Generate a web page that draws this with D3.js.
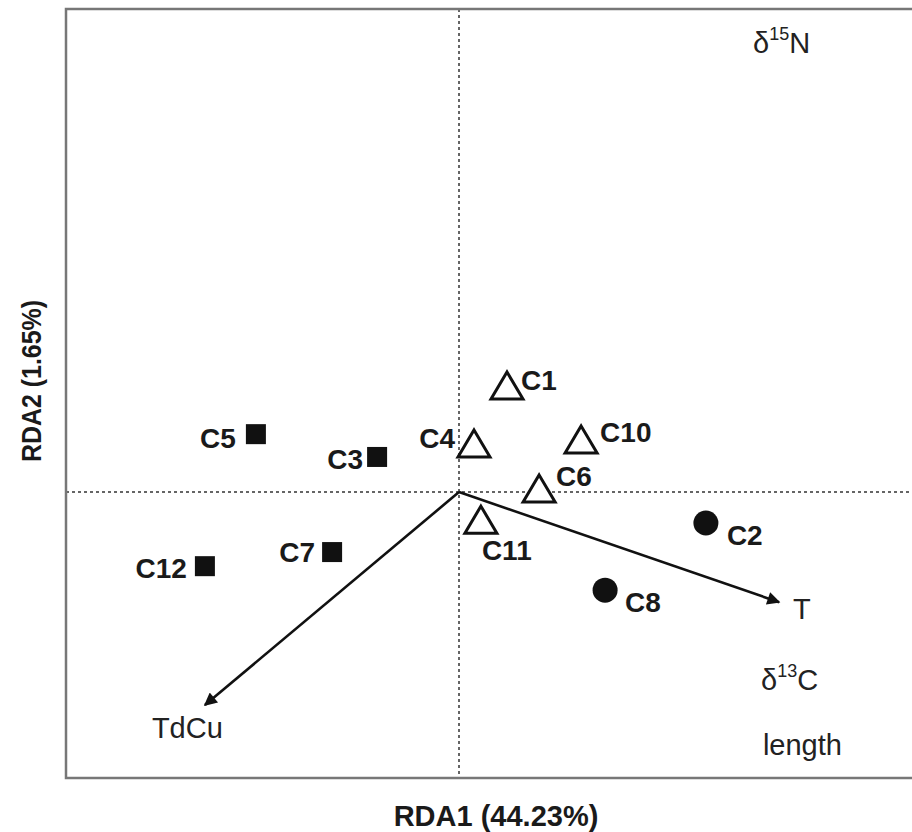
<!DOCTYPE html>
<html>
<head>
<meta charset="utf-8">
<script src="https://cdn.jsdelivr.net/npm/d3@7"></script>
<style>
  body { margin: 0; background: #fff; }
  svg { display: block; }
</style>
</head>
<body>
<svg id="chart"></svg>
<script>
const width = 912;
const height = 832;
const frame = { left: 66, right: 912, top: 9, bottom: 778 };

// site scores (RDA1, RDA2)
const sites = ["C1", "C4", "C10", "C6", "C11", "C5", "C3", "C7", "C12", "C2", "C8"];
const rda1 = [0.16, 0.05, 0.407, 0.267, 0.073, -0.677, -0.273, -0.423, -0.847, 0.823, 0.487];
const rda2 = [0.35, 0.157, 0.17, 0.007, -0.097, 0.193, 0.117, -0.2, -0.247, -0.103, -0.327];
const groups = ["tri", "tri", "tri", "tri", "tri", "sq", "sq", "sq", "sq", "dot", "dot"];

// environmental vectors
const envNames = ["T", "TdCu"];
const envX = [1.067, -0.847];
const envY = [-0.367, -0.71];

// variables plotted as labels only
const varNames = ["δ15N", "δ13C", "length"];
const varX = [0.98, 1.007, 1.013];
const varY = [1.463, -0.66, -0.877];

const xLabel = "RDA1 (44.23%)";
const yLabel = "RDA2 (1.65%)";

const xScale = d3.scaleLinear().domain([-1.31, 1.51]).range([frame.left, frame.right]);
const yScale = d3.scaleLinear().domain([-0.953, 1.61]).range([frame.bottom, frame.top]);

const svg = d3.select("#chart")
    .attr("width", width)
    .attr("height", height);

const sans = "'Liberation Sans', Arial, sans-serif";

// label offsets for site names
const labelPos = {
    C1: [14, -4, "start"], C4: [-19, -4, "end"], C10: [19, -6, "start"],
    C6: [17, -11, "start"], C11: [1, 31, "start"], C5: [-20, 6, "end"],
    C3: [-14, 5, "end"], C7: [-17, 3, "end"], C12: [-18, 4, "end"],
    C2: [21, 15, "start"], C8: [20, 14, "start"]
};
// label offsets for vector names
const envLabelPos = { T: [14, 17], TdCu: [-53, 33] };

svg.append("defs").append("marker")
    .attr("id", "arrow")
    .attr("viewBox", "0 0 10 10")
    .attr("refX", 9).attr("refY", 5)
    .attr("markerWidth", 7).attr("markerHeight", 5)
    .attr("markerUnits", "strokeWidth")
    .attr("orient", "auto")
    .append("path")
    .attr("d", "M0,0 L10,5 L0,10 Z")
    .attr("fill", "#111");

// zero lines
svg.append("line")
    .attr("x1", xScale(0)).attr("x2", xScale(0))
    .attr("y1", frame.top).attr("y2", frame.bottom)
    .attr("stroke", "#333").attr("stroke-width", 1.5).attr("stroke-dasharray", "3,3");
svg.append("line")
    .attr("x1", frame.left).attr("x2", frame.right)
    .attr("y1", yScale(0)).attr("y2", yScale(0))
    .attr("stroke", "#333").attr("stroke-width", 1.5).attr("stroke-dasharray", "3,3");

// frame
svg.append("path")
    .attr("d", `M${frame.right},${frame.top} H${frame.left} V${frame.bottom} H${frame.right}`)
    .attr("fill", "none")
    .attr("stroke", "#777")
    .attr("stroke-width", 2.5);

// arrows
svg.selectAll(".env")
    .data(envNames)
    .enter()
    .append("line")
    .attr("class", "env")
    .attr("x1", xScale(0)).attr("y1", yScale(0))
    .attr("x2", (d, i) => xScale(envX[i]))
    .attr("y2", (d, i) => yScale(envY[i]))
    .attr("stroke", "#111")
    .attr("stroke-width", 2.6)
    .attr("marker-end", "url(#arrow)");

svg.selectAll(".envlab")
    .data(envNames)
    .enter()
    .append("text")
    .attr("class", "envlab")
    .attr("x", (d, i) => xScale(envX[i]) + envLabelPos[d][0])
    .attr("y", (d, i) => yScale(envY[i]) + envLabelPos[d][1])
    .attr("font-family", sans).attr("font-size", 29).attr("fill", "#222")
    .text(d => d);

// variable labels with superscripts
varNames.forEach((name, i) => {
    const t = svg.append("text")
        .attr("x", xScale(varX[i])).attr("y", yScale(varY[i]))
        .attr("font-family", sans).attr("font-size", 29).attr("fill", "#222");
    const m = name.match(/^δ(\d+)(\w)$/);
    if (m) {
        t.append("tspan").text("δ");
        t.append("tspan").attr("font-size", 18).attr("dy", -13).text(m[1]);
        t.append("tspan").attr("dy", 13).text(m[2]);
    } else {
        t.text(name);
    }
});

// site markers
const sym = svg.selectAll(".site")
    .data(sites)
    .enter()
    .append("g")
    .attr("class", "site")
    .attr("transform", (d, i) => `translate(${xScale(rda1[i])},${yScale(rda2[i])})`);

sym.filter(d => groups[sites.indexOf(d)] === "tri")
    .append("path")
    .attr("d", "M0,-15 L16,12 L-16,12 Z")
    .attr("fill", "#fff")
    .attr("stroke", "#111")
    .attr("stroke-width", 3);

sym.filter(d => groups[sites.indexOf(d)] === "sq")
    .append("rect")
    .attr("x", -10).attr("y", -10)
    .attr("width", 20).attr("height", 20)
    .attr("fill", "#111");

sym.filter(d => groups[sites.indexOf(d)] === "dot")
    .append("circle")
    .attr("r", 12.5)
    .attr("fill", "#111");

sym.append("text")
    .attr("x", d => labelPos[d][0])
    .attr("y", d => labelPos[d][1])
    .attr("text-anchor", d => labelPos[d][2])
    .attr("dominant-baseline", "middle")
    .attr("font-family", sans)
    .attr("font-weight", "bold")
    .attr("font-size", 28)
    .attr("fill", "#1a1a1a")
    .text(d => d);

// axis titles
svg.append("text")
    .attr("x", 496).attr("y", 826)
    .attr("text-anchor", "middle")
    .attr("font-family", sans)
    .attr("font-weight", "bold").attr("font-size", 29).attr("fill", "#1a1a1a")
    .text(xLabel);

svg.append("text")
    .attr("transform", `translate(41, 381) rotate(-90)`)
    .attr("text-anchor", "middle")
    .attr("font-family", sans)
    .attr("font-weight", "bold").attr("font-size", 27).attr("fill", "#1a1a1a")
    .attr("textLength", 162).attr("lengthAdjust", "spacingAndGlyphs")
    .text(yLabel);
</script>
</body>
</html>
